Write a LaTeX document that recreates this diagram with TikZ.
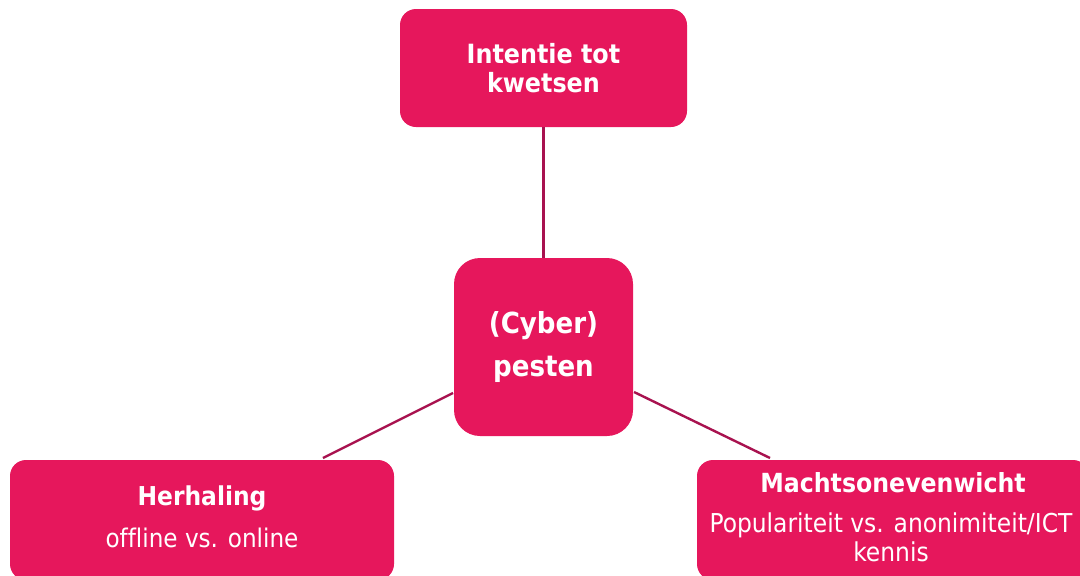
\documentclass[tikz,border=0pt]{standalone}
\usepackage{fontspec}
\setmainfont[Ligatures=NoCommon]{DejaVu Sans Condensed}
\definecolor{boxpink}{HTML}{E6175C}
\definecolor{linkred}{HTML}{A8124F}
\begin{document}
\begin{tikzpicture}[x=1pt,y=-1pt,
  pinkbox/.style={fill=boxpink, draw=none, text=white, align=center, inner sep=0pt},
  link/.style={draw=linkred, line width=2.4pt},
  big/.style={font=\fontsize{26.5}{29}\selectfont\bfseries},
  huge/.style={font=\fontsize{29}{43}\selectfont\bfseries}]
\useasboundingbox (0,0) rectangle (1080,576);
\begin{scope}
\clip (0,0) rectangle (1080,576);
\node[pinkbox, rounded corners=16pt, minimum width=287pt, minimum height=118pt] (top) at (543.5,68) {};
\node[pinkbox, rounded corners=26pt, minimum width=179pt, minimum height=178pt] (mid) at (543.5,347) {};
\node[pinkbox, rounded corners=16pt, minimum width=384pt, minimum height=120pt] (left) at (202,520) {};
\node[pinkbox, rounded corners=16pt, minimum width=392pt, minimum height=120pt] (right) at (893,520) {};
\coordinate (lend) at (323,458);
\coordinate (rend) at (770,458);
\coordinate (lstart) at (453,393);
\coordinate (rstart) at (634,392);
\draw[link] (top.south) -- (mid.north);
\draw[link] (lstart) -- (lend);
\draw[link] (rstart) -- (rend);
\node[text=white, big, align=center] (toptext) at (543.5,68) {Intentie tot\\kwetsen};
\node[text=white, huge, align=center] (midtext) at (543.5,347) {(Cyber)\\pesten};
\node[text=white, font=\fontsize{26}{40}\selectfont\bfseries] (lt1) at (202,498) {Herhaling};
\node[text=white, font=\fontsize{25.7}{40}\selectfont] (lt2) at (202,538) {offline vs. online};
\node[text=white, font=\fontsize{26.3}{40}\selectfont\bfseries] (rt1) at (893,483) {Machtsonevenwicht};
\node[text=white, font=\fontsize{26}{29}\selectfont, align=center] (rt2) at (891,537) {Populariteit vs. anonimiteit/ICT\\kennis};
\end{scope}
\end{tikzpicture}
\end{document}
